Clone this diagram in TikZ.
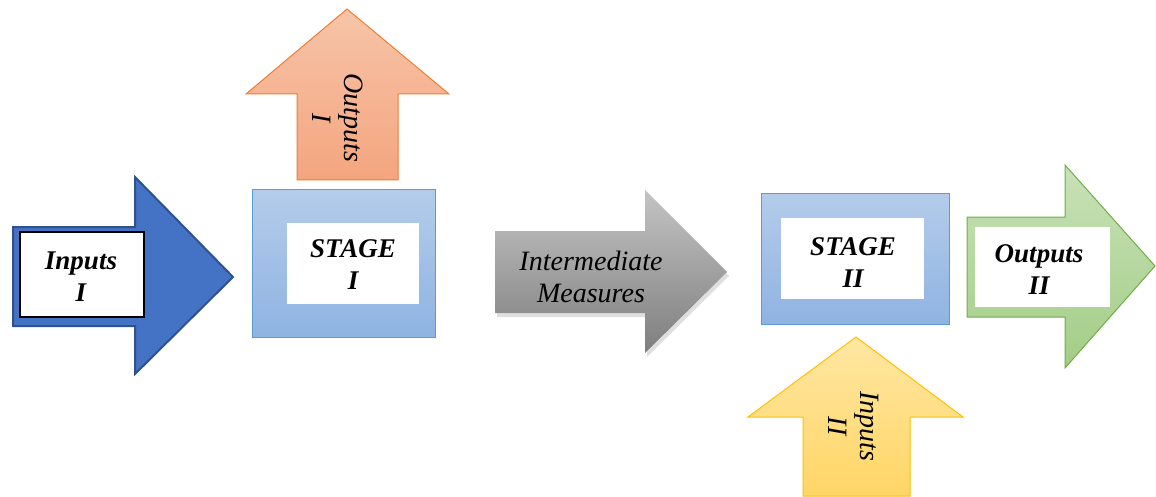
\documentclass[tikz,border=0pt]{standalone}
\usepackage{fontspec}
\setmainfont{Liberation Serif}
\usetikzlibrary{shadows,shadings}

\definecolor{inblue}{HTML}{4472C4}
\definecolor{inblueD}{HTML}{2F528F}
\definecolor{outorT}{HTML}{F7C4A8}
\definecolor{outorB}{HTML}{F4A57F}
\definecolor{outorD}{HTML}{ED7D31}
\definecolor{stageT}{HTML}{B4CCEA}
\definecolor{stageB}{HTML}{8FB3E2}
\definecolor{stageD}{HTML}{5B9BD5}
\definecolor{midT}{HTML}{C4C4C4}
\definecolor{midB}{HTML}{7E7E7E}
\definecolor{grnT}{HTML}{C8E2B8}
\definecolor{grnB}{HTML}{A3CD87}
\definecolor{grnD}{HTML}{70AD47}
\definecolor{ylwT}{HTML}{FFE7A3}
\definecolor{ylwB}{HTML}{FFD565}
\definecolor{ylwD}{HTML}{FFC000}

\begin{document}
\begin{tikzpicture}[x=1pt, y=-1pt,
  boldlbl/.style={font=\fontsize{27}{32}\selectfont\bfseries\itshape, align=center},
  slantlbl/.style={font=\fontsize{28}{32}\selectfont\itshape, align=center},
  uplbl/.style={slantlbl, rotate=-90},
  stagebox/.style={draw=stageD, line width=1pt, top color=stageT, bottom color=stageB}]

\useasboundingbox (0,0) rectangle (1156,497);

% inputs I
\draw[inblueD, line width=2pt, fill=inblue] (13,227) -- (135,227) -- (135,177) -- (233,277)
  -- (135,374) -- (135,326) -- (13,326) -- cycle;
\draw[black, line width=1.2pt, fill=white] (20,232) rectangle (144,317);
\node[boldlbl] (inI) at (81,277) {Inputs\\I};

% outputs I
\draw[outorD, line width=1pt, top color=outorT, bottom color=outorB] (297,180) -- (297,94) -- (246,94)
  -- (347,9) -- (449,94) -- (398,94) -- (398,180) -- cycle;
\node[uplbl] (outI) at (338,118) {Outputs\\I};

% stage I
\draw[stagebox] (252,190) rectangle (435,337);
\fill[white] (287,223) rectangle (419,304);
\node[boldlbl] (stI) at (353,265) {STAGE\\I};

% intermediate measures
\path[drop shadow={opacity=0.25, shadow xshift=2pt, shadow yshift=-4pt},
  top color=midT, bottom color=midB] (495,231) -- (645,231) -- (645,190) -- (727,272)
  -- (645,353) -- (645,313) -- (495,313) -- cycle;
\node[slantlbl] (mid) at (591,277) {Intermediate\\Measures};

% stage II
\draw[stagebox] (761,194) rectangle (949,324);
\fill[white] (781,218) rectangle (924,299);
\node[boldlbl] (stII) at (853,263) {STAGE\\II};

% outputs II
\draw[grnD, line width=1pt, top color=grnT, bottom color=grnB] (967,217) -- (1065,217) -- (1065,165)
  -- (1155,266) -- (1065,368) -- (1065,317) -- (967,317) -- cycle;
\fill[white] (975,227) rectangle (1110,307);
\node[boldlbl] (outII) at (1039,270) {Outputs\\II};

% inputs II
\draw[ylwD, line width=1pt, top color=ylwT, bottom color=ylwB] (803,496) -- (803,417) -- (748,417)
  -- (856,337) -- (963,417) -- (910,417) -- (910,496) -- cycle;
\node[uplbl] (inII) at (854,426) {Inputs\\II};

\end{tikzpicture}
\end{document}
